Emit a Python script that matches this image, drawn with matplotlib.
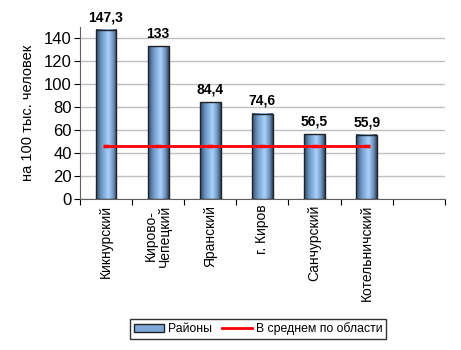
import numpy as np
import matplotlib
matplotlib.use("Agg")
import matplotlib.pyplot as plt
from matplotlib.colors import LinearSegmentedColormap
from matplotlib.patches import Rectangle, Patch
from matplotlib.lines import Line2D

plt.rcParams['font.family'] = ['Liberation Sans', 'DejaVu Sans']

categories = ["Кикнурский", "Кирово-\nЧепецкий", "Яранский", "г. Киров",
              "Санчурский", "Котельничский", ""]
values = [147.3, 133, 84.4, 74.6, 56.5, 55.9]
value_labels = ["147,3", "133", "84,4", "74,6", "56,5", "55,9"]
average = [46, 46, 46, 46, 46, 46]
y_ticks = [0, 20, 40, 60, 80, 100, 120, 140]

fig = plt.figure(figsize=(4.61, 3.5), dpi=100)
ax = fig.add_axes([0.1735, 0.431, 0.7915, 0.492])

bar_cmap = LinearSegmentedColormap.from_list(
    "cyl", [(0.0, "#2f4c70"), (0.25, "#6e97c4"), (0.6, "#a9d3ff"),
            (0.85, "#6c90b8"), (1.0, "#2c4563")])
grad = np.linspace(0, 1, 64).reshape(1, -1)

width = 0.4
for i, v in enumerate(values):
    x0 = i - width / 2
    ax.imshow(grad, cmap=bar_cmap, aspect="auto", extent=[x0, x0 + width, 0, v],
              zorder=2, interpolation="bicubic")
    ax.add_patch(Rectangle((x0, 0), width, v, fill=False, edgecolor="#222222",
                           lw=1.0, zorder=3))
    ax.text(i, v + 5, value_labels[i], ha="center", va="bottom",
            fontsize=10, fontweight="bold")

ax.plot(range(len(average)), average, color="red", lw=2, zorder=4,
        marker="_", markersize=4, markeredgewidth=2.5)

ax.set_xlim(-0.5, 6.5)
ax.set_ylim(0, 150)
ax.set_yticks(y_ticks)
ax.yaxis.grid(True, color="#c0c0c0", lw=1)
ax.set_axisbelow(True)
ax.set_xticks(np.arange(-0.5, 7.0, 1.0))
ax.set_xticklabels([])
ax.set_xticks(range(7), minor=True)
ax.set_xticklabels(categories, minor=True, rotation=90, va="top", fontsize=10,
                   linespacing=1.0)
ax.tick_params(axis="x", which="minor", length=0, pad=4)
ax.tick_params(axis="x", which="major", length=4, direction="out")
ax.tick_params(axis="y", length=4, labelsize=12, pad=2)
for s in ["top", "right"]:
    ax.spines[s].set_visible(False)
ax.spines["left"].set_color("#606060")
ax.spines["bottom"].set_color("#606060")
ax.set_ylabel("на 100 тыс. человек", fontsize=10.5, labelpad=6)

handles = [Patch(facecolor="#7fa8d8", edgecolor="#222222", label="Районы"),
           Line2D([0], [0], color="red", lw=2, label="В среднем по области")]
leg = fig.legend(handles=handles, loc="center", bbox_to_anchor=(0.56, 0.06),
                 ncol=2, fontsize=8.8, frameon=True, fancybox=False,
                 edgecolor="black", handlelength=2.5, handletextpad=0.3,
                 columnspacing=0.8, borderpad=0.3)
leg.get_frame().set_linewidth(1.0)

fig.savefig("out.png", dpi=100)
